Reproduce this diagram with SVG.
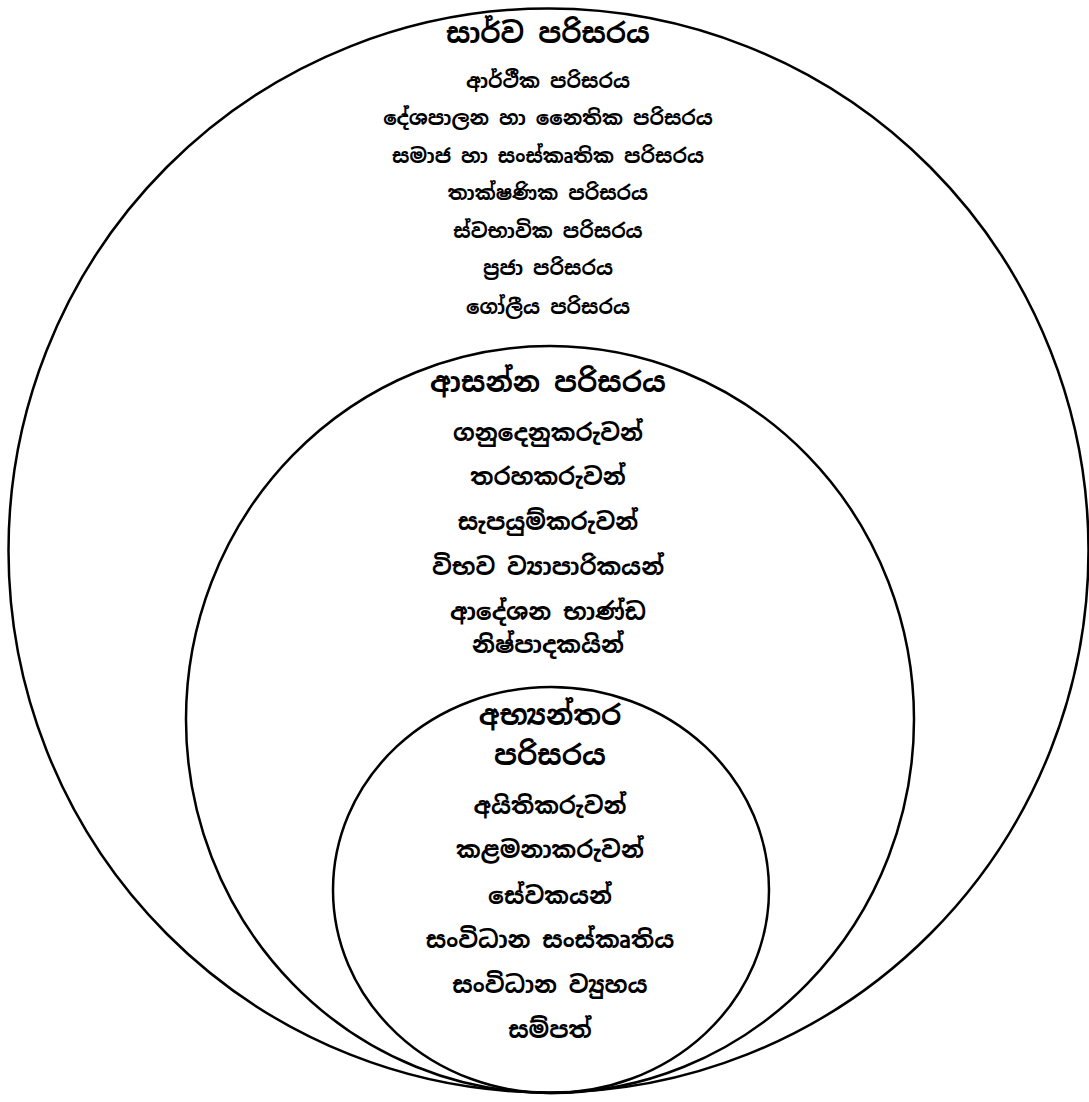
<svg xmlns="http://www.w3.org/2000/svg" width="1089" height="1102" viewBox="0 0 1089 1102">
<style>
.ring{fill:none;stroke:#000;stroke-width:2.5}
text{font-family:"Noto Sans Sinhala","Noto Serif Sinhala","Iskoola Pota","Noto Sans",sans-serif;font-weight:bold;fill:#000;text-anchor:middle}
.t{font-size:28px}
.s{font-size:20px}
.m{font-size:23.5px}
</style>
<rect width="1089" height="1102" fill="#fff"/>
<g id="outer">
<ellipse class="ring" cx="548.5" cy="550.5" rx="540" ry="542"/>
<text class="t" x="548" y="43">සාර්ව පරිසරය</text>
<text class="s" x="548" y="88">ආර්ථීක පරිසරය</text>
<text class="s" x="548" y="125">දේශපාලන හා නෛතික පරිසරය</text>
<text class="s" x="548" y="163">සමාජ හා සංස්කෘතික පරිසරය</text>
<text class="s" x="548" y="200">තාක්ෂණික පරිසරය</text>
<text class="s" x="548" y="238">ස්වභාවික පරිසරය</text>
<text class="s" x="548" y="275">ප්‍රජා පරිසරය</text>
<text class="s" x="548" y="314">ගෝලීය පරිසරය</text>
</g>
<g id="middle">
<ellipse class="ring" cx="550" cy="719.5" rx="364" ry="373.5"/>
<text class="t" x="548" y="392">ආසන්න පරිසරය</text>
<text class="m" x="548" y="441">ගනුදෙනුකරුවන්</text>
<text class="m" x="548" y="485">තරහකරුවන්</text>
<text class="m" x="548" y="530">සැපයුම්කරුවන්</text>
<text class="m" x="548" y="575">විභව ව්‍යාපාරිකයන්</text>
<text class="m" x="548" y="620">ආදේශන භාණ්ඩ</text>
<text class="m" x="548" y="653">නිෂ්පාදකයින්</text>
</g>
<g id="inner">
<ellipse class="ring" cx="551" cy="890" rx="218" ry="203"/>
<text class="t" x="550" y="725">අභ්‍යන්තර</text>
<text class="t" x="550" y="765">පරිසරය</text>
<text class="m" x="550" y="814">අයිතිකරුවන්</text>
<text class="m" x="550" y="858">කළමනාකරුවන්</text>
<text class="m" x="550" y="904">සේවකයන්</text>
<text class="m" x="550" y="948">සංවිධාන සංස්කෘතිය</text>
<text class="m" x="550" y="993">සංවිධාන ව්‍යුහය</text>
<text class="m" x="550" y="1038">සම්පත්</text>
</g>
<g id="connectors"/>
</svg>
